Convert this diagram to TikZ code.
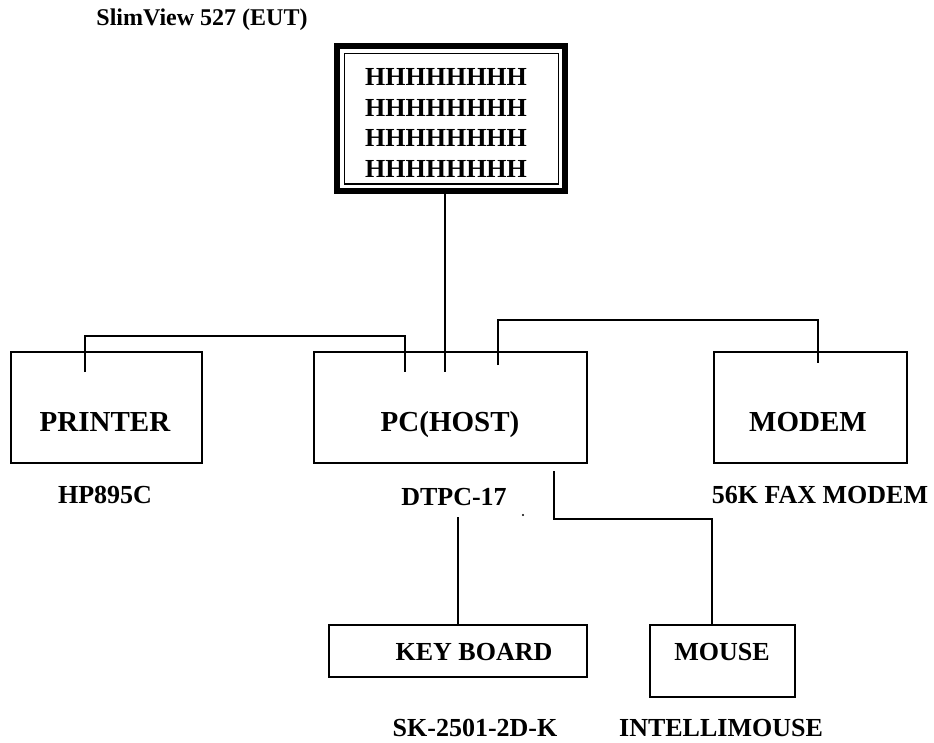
\documentclass[tikz,border=0pt]{standalone}
\usepackage{fontspec}
\setmainfont{Liberation Serif}
\usepackage{tikz}
\usetikzlibrary{positioning, calc}
\def\pxu{0.75pt}
\tikzset{
    unit/.style={
        rectangle,
        draw=black,
        line width=1.3*\pxu,
        inner sep=0pt,
    },
    boxtext/.style={
        font=\bfseries\fontsize{21.75}{24}\selectfont,
        inner sep=0pt,
    },
    subtext/.style={
        font=\bfseries\fontsize{19.5}{22}\selectfont,
        inner sep=0pt,
    },
    wire/.style={
        line width=1.3*\pxu,
    },
}
\begin{document}
\begin{tikzpicture}[x=0.75pt, y=-0.75pt]
      \useasboundingbox (0,0) rectangle (934,742);

      \node[font=\bfseries\fontsize{18}{20}\selectfont, inner sep=0pt] (title) at (202,20) {SlimView 527 (EUT)};

      % monitor
      \node[unit, line width=6*\pxu, minimum width=228.5*\pxu, minimum height=144*\pxu] (monitor) at (451,118.5) {};
      \node[unit, minimum width=214.5*\pxu, minimum height=130.5*\pxu] (screen) at (451.5,118.75) {};
      \foreach \y/\n in {77/1, 107.5/2, 138/3, 168.5/4}
          \node[subtext] (row\n) at (446,\y) {HHHHHHHH};

      \node[unit, minimum width=191*\pxu, minimum height=111*\pxu] (printer) at (106.5,407.5) {};
      \node[unit, minimum width=273*\pxu, minimum height=111*\pxu] (pc) at (450.5,407.5) {};
      \node[unit, minimum width=193*\pxu, minimum height=111*\pxu] (modem) at (810.5,407.5) {};
      \node[unit, minimum width=258*\pxu, minimum height=52*\pxu] (keyboard) at (458,651) {};
      \node[unit, minimum width=145*\pxu, minimum height=72*\pxu] (mouse) at (722.5,661) {};

      \node[boxtext] (printerlbl) at (105,422) {PRINTER};
      \node[boxtext] (pclbl) at (450,425) {PC(HOST)};
      \node[boxtext] (modemlbl) at (808,422) {MODEM};
      \node[subtext] (keyboardlbl) at (474,652) {KEY BOARD};
      \node[subtext] (mouselbl) at (722,652) {MOUSE};

      \node[subtext] (printermodel) at (105,495) {HP895C};
      \node[subtext] (pcmodel) at (454,497) {DTPC-17};
      \node[subtext] (modemmodel) at (820,495) {56K FAX MODEM};
      \node[subtext] (keyboardmodel) at (475,728) {SK-2501-2D-K};
      \node[subtext] (mousemodel) at (721,728) {INTELLIMOUSE};

      \coordinate (prA) at (85,372);
      \coordinate (prB) at (405,372);
      \coordinate (monA) at (445,372);
      \coordinate (moA) at (498,365);
      \coordinate (moB) at (818,363);
      \coordinate (kbA) at (458,517);
      \coordinate (msA) at (554,471);
      \coordinate (msB) at (712,625);

      \draw[wire] (prA) -- ++(0,-36) -| (prB);
      \draw[wire] (monitor.south -| monA) -- (monA);
      \draw[wire] (moA) -- ++(0,-45) -| (moB);
      \draw[wire] (keyboard.north) -- (kbA);
      \draw[wire] (msA) -- ++(0,48) -| (msB);

      \fill (523,515) circle[radius=0.9pt];

    \end{tikzpicture}
\end{document}
